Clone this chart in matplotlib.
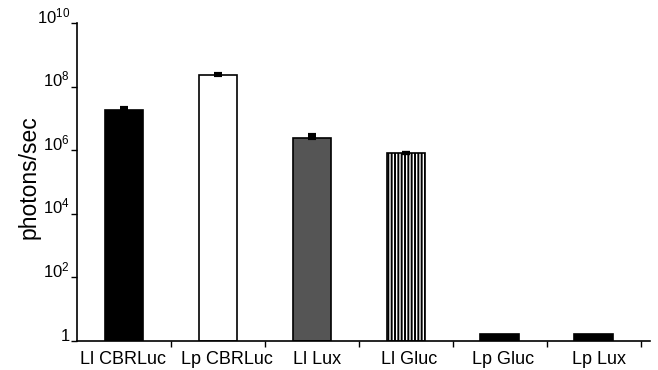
import numpy as np
import matplotlib
matplotlib.use("Agg")
import matplotlib.pyplot as plt
import matplotlib.transforms as mtransforms

plt.rcParams["font.family"] = ["Liberation Sans", "DejaVu Sans"]
plt.rcParams["mathtext.fontset"] = "custom"
plt.rcParams["mathtext.rm"] = "Liberation Sans"
plt.rcParams["mathtext.it"] = "Liberation Sans"
plt.rcParams["hatch.linewidth"] = 1.4

# Data
labels = ["Ll CBRLuc", "Lp CBRLuc", "Ll Lux", "Ll Gluc", "Lp Gluc", "Lp Lux"]
values = [1.9e7, 2.3e8, 2.5e6, 8.0e5, 1.65, 1.65]
errors = [1.5e6, 2.0e7, 4.0e5, 4.0e4, 0.0, 0.0]
ytick_vals = [1, 1e2, 1e4, 1e6, 1e8, 1e10]
ytick_labels = ["1", "$10^{2}$", "$10^{4}$", "$10^{6}$", "$10^{8}$", "$10^{10}$"]

fills = ["black", "white", "#555555", "white", "black", "black"]
hatches = [None, None, None, "|||||", None, None]
label_shift_px = [-1, 9, 5, 3, 3, 5]

fig = plt.figure(figsize=(6.58, 3.70), dpi=100)
ax = fig.add_axes([77 / 658, 29 / 370, 573 / 658, 318 / 370])

x = np.arange(len(labels))
for i in range(len(labels)):
    ax.bar(x[i], values[i] - 1, width=0.41, bottom=1, color=fills[i],
           edgecolor="black", linewidth=1.2, hatch=hatches[i], zorder=2)
    if errors[i] > 0:
        ax.errorbar(x[i], values[i], yerr=[[0], [errors[i]]], fmt="none",
                    ecolor="black", elinewidth=2, capsize=3, capthick=3, zorder=3)

ax.set_yscale("log")
ax.set_ylim(1, 1e10)
ax.set_xlim(-0.5, 5.6)
ax.set_yticks(ytick_vals)
ax.set_yticklabels(ytick_labels, fontsize=12)
ax.minorticks_off()
ax.tick_params(axis="y", direction="out", length=4, width=1, pad=1)
for lbl in ax.get_yticklabels():
    lbl.set_verticalalignment("baseline")

ax.set_xticks(x)
ax.set_xticklabels(labels, fontsize=13)
ax.tick_params(axis="x", length=0, pad=7)
ax.set_xticks(np.arange(0.5, 6, 1), minor=True)
ax.tick_params(axis="x", which="minor", direction="out", length=4, width=1)
for lbl, dx in zip(ax.get_xticklabels(), label_shift_px):
    off = mtransforms.ScaledTranslation(dx / 100, 0, fig.dpi_scale_trans)
    lbl.set_transform(lbl.get_transform() + off)

ax.spines["top"].set_visible(False)
ax.spines["right"].set_visible(False)
ax.spines["left"].set_linewidth(1.2)
ax.spines["bottom"].set_linewidth(1.2)

ax.set_ylabel("photons/sec", fontsize=16.5)
ax.yaxis.set_label_coords(-0.063, 0.514)

fig.savefig("out.png", dpi=100)
